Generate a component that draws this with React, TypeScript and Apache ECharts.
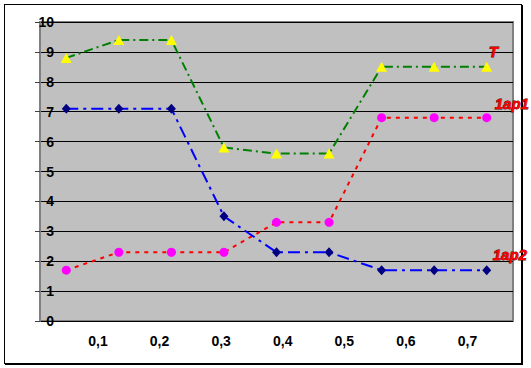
import React, { useEffect, useRef } from "react";
import * as echarts from "echarts";

const categories = ["1", "2", "3", "4", "5", "6", "7", "8", "9"];
const seriesT = [8.8, 9.4, 9.4, 5.8, 5.6, 5.6, 8.5, 8.5, 8.5];
const series1ap1 = [1.7, 2.3, 2.3, 2.3, 3.3, 3.3, 6.8, 6.8, 6.8];
const series1ap2 = [7.1, 7.1, 7.1, 3.5, 2.3, 2.3, 1.7, 1.7, 1.7];
const xTickLabels = [0.1, 0.2, 0.3, 0.4, 0.5, 0.6, 0.7];

const nameLabel = (name: string, dx: number, dy: number) => ({
  show: true,
  position: "inside",
  align: "left",
  verticalAlign: "middle",
  offset: [dx, dy],
  formatter: name,
  color: "#FF0000",
  fontSize: 15,
  fontWeight: "bold",
  fontStyle: "italic",
  fontFamily: "Liberation Sans, Arial, sans-serif",
  textBorderColor: "#600000",
  textBorderWidth: 0.8,
});

const withEndLabel = (vals: number[], name: string, dx: number, dy: number) =>
  vals.map((v, i) =>
    i === vals.length - 1 ? { value: v, label: nameLabel(name, dx, dy) } : v
  );

export default function App() {
  const ref = useRef<HTMLDivElement>(null);
  useEffect(() => {
    if (!ref.current) return;
    const chart = echarts.init(ref.current, undefined, { renderer: "svg" });
    const font = "Liberation Sans, Arial, sans-serif";
    chart.setOption({
      animation: false,
      grid: {
        left: 40,
        top: 22,
        right: 18,
        bottom: 47,
        show: true,
        backgroundColor: "#C0C0C0",
        borderColor: "#808080",
        borderWidth: 2,
      },
      xAxis: [
        {
          type: "category",
          data: categories,
          boundaryGap: true,
          axisLine: { show: false },
          axisTick: { show: false },
          axisLabel: { show: false },
          splitLine: { show: false },
        },
        {
          type: "value",
          position: "bottom",
          min: 0.00585,
          max: 0.7739,
          axisLine: { show: false },
          axisTick: { show: false },
          splitLine: { show: false },
          axisLabel: {
            show: true,
            customValues: xTickLabels,
            margin: 13,
            color: "#000",
            fontSize: 14,
            fontWeight: "bold",
            fontFamily: font,
            formatter: (v: number) => v.toFixed(1).replace(".", ","),
          },
        },
      ],
      yAxis: {
        type: "value",
        min: 0,
        max: 10,
        interval: 1,
        axisLine: { show: true, lineStyle: { color: "#808080", width: 2 } },
        axisTick: { show: true, length: 5, lineStyle: { color: "#404040", width: 1 } },
        splitLine: { show: true, lineStyle: { color: "#000000", width: 1 } },
        axisLabel: {
          margin: -14,
          color: "#000",
          fontSize: 14,
          fontWeight: "bold",
          fontFamily: font,
        },
      },
      series: [
        {
          name: "1ap1",
          type: "line",
          data: withEndLabel(series1ap1, "1ap1", 8, -14),
          symbol: "circle",
          symbolSize: 9,
          itemStyle: { color: "#FF00FF", borderWidth: 0 },
          lineStyle: { color: "#FF0000", width: 2, type: [4, 5] },
          z: 3,
        },
        {
          name: "1ap2",
          type: "line",
          data: withEndLabel(series1ap2, "1ap2", 6, -16),
          symbol: "diamond",
          symbolSize: [9, 10],
          itemStyle: { color: "#000080", borderWidth: 0 },
          lineStyle: { color: "#0000FF", width: 2, type: [12, 5, 3, 5] },
          z: 4,
        },
        {
          name: "T",
          type: "line",
          data: withEndLabel(seriesT, "T", 2, -15),
          symbol: "triangle",
          symbolSize: [11, 10],
          itemStyle: { color: "#FFFF00", borderWidth: 0 },
          lineStyle: { color: "#008000", width: 2, type: [9, 4, 2, 4] },
          z: 5,
        },
      ],
    });
    return () => chart.dispose();
  }, []);
  return (
    <div style={{ position: "fixed", left: 0, top: 0, width: 531, height: 368, background: "#fff" }}>
      <div
        style={{
          position: "absolute",
          left: 4,
          top: 4,
          width: 516,
          height: 358,
          border: "1px solid #000",
          boxShadow: "1px 1px 0 #000",
        }}
      />
      <div ref={ref} style={{ position: "absolute", left: 0, top: 0, width: 531, height: 368 }} />
    </div>
  );
}
